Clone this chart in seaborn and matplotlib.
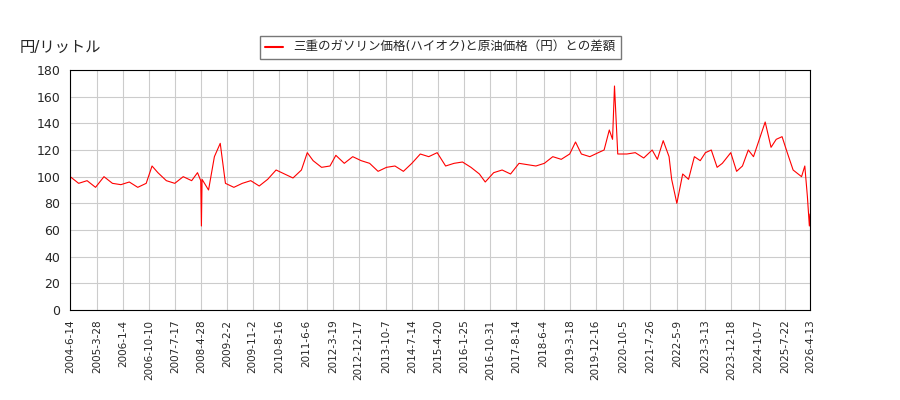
import matplotlib
matplotlib.use("Agg")
import matplotlib.pyplot as plt
import numpy as np
import pandas as pd
import seaborn as sns

sns.set_style("white")
plt.rcParams["font.family"] = ["DejaVu Sans", "Noto Sans CJK JP"]

dates = [
    "2004-06-14", "2004-09-13", "2004-12-13", "2005-03-14", "2005-06-13", "2005-09-12",
    "2005-12-12", "2006-03-13", "2006-06-12", "2006-09-11", "2006-11-13", "2007-01-15",
    "2007-04-16", "2007-07-16", "2007-10-15", "2008-01-14", "2008-03-17", "2008-04-21",
    "2008-04-28", "2008-05-05", "2008-07-14", "2008-09-15", "2008-11-17", "2008-12-15",
    "2009-01-12", "2009-04-13", "2009-07-13", "2009-10-12", "2010-01-11", "2010-04-12",
    "2010-07-12", "2010-10-11", "2011-01-10", "2011-04-11", "2011-06-13", "2011-08-15",
    "2011-11-14", "2012-02-13", "2012-04-16", "2012-07-16", "2012-10-15", "2013-01-14",
    "2013-04-15", "2013-07-15", "2013-10-14", "2014-01-13", "2014-04-14", "2014-07-14",
    "2014-10-13", "2015-01-12", "2015-04-13", "2015-07-13", "2015-10-12", "2016-01-11",
    "2016-04-11", "2016-07-11", "2016-09-12", "2016-12-12", "2017-03-13", "2017-06-12",
    "2017-09-11", "2017-12-11", "2018-03-12", "2018-06-11", "2018-09-10", "2018-12-10",
    "2019-03-11", "2019-05-13", "2019-07-15", "2019-10-14", "2020-01-13", "2020-03-16",
    "2020-05-11", "2020-06-15", "2020-07-06", "2020-08-10", "2020-11-16", "2021-02-15",
    "2021-05-17", "2021-08-16", "2021-10-11", "2021-12-13", "2022-02-14", "2022-03-14",
    "2022-05-09", "2022-07-11", "2022-09-12", "2022-11-14", "2023-01-16", "2023-03-13",
    "2023-05-15", "2023-07-17", "2023-09-11", "2023-12-11", "2024-02-12", "2024-04-15",
    "2024-06-17", "2024-08-12", "2024-10-14", "2024-12-16", "2025-02-17", "2025-04-14",
    "2025-06-16", "2025-08-11", "2025-10-13", "2026-01-12", "2026-02-16", "2026-03-16",
    "2026-04-06", "2026-04-13",
]
values = [
    100, 95, 97, 92, 100, 95, 94, 96, 92, 95, 108, 103,
    97, 95, 100, 97, 103, 97, 63, 98, 90, 115, 125, 110,
    95, 92, 95, 97, 93, 98, 105, 102, 99, 105, 118, 112,
    107, 108, 116, 110, 115, 112, 110, 104, 107, 108, 104, 110,
    117, 115, 118, 108, 110, 111, 107, 102, 96, 103, 105, 102,
    110, 109, 108, 110, 115, 113, 117, 126, 117, 115, 118, 120,
    135, 128, 168, 117, 117, 118, 114, 120, 113, 127, 115, 98,
    80, 102, 98, 115, 112, 118, 120, 107, 110, 118, 104, 108,
    120, 115, 128, 141, 122, 128, 130, 118, 105, 100, 108, 85,
    63, 72,
]
tick_labels = [
    "2004-6-14", "2005-3-28", "2006-1-4", "2006-10-10", "2007-7-17", "2008-4-28",
    "2009-2-2", "2009-11-2", "2010-8-16", "2011-6-6", "2012-3-19", "2012-12-17",
    "2013-10-7", "2014-7-14", "2015-4-20", "2016-1-25", "2016-10-31", "2017-8-14",
    "2018-6-4", "2019-3-18", "2019-12-16", "2020-10-5", "2021-7-26", "2022-5-9",
    "2023-3-13", "2023-12-18", "2024-10-7", "2025-7-22", "2026-4-13",
]

df = pd.DataFrame({"date": pd.to_datetime(dates), "value": values})
label = "三重のガソリン価格(ハイオク)と原油価格（円）との差額"

fig, ax = plt.subplots(figsize=(9, 4), dpi=100)
fig.subplots_adjust(left=0.078, right=0.9, top=0.825, bottom=0.225)
sns.lineplot(data=df, x="date", y="value", color="red", linewidth=0.8, ax=ax, label=label)

ticks = pd.to_datetime(tick_labels)
ax.set_xticks(ticks)
ax.set_xticklabels(tick_labels, rotation=90, fontsize=7.5)
ax.set_xlim(ticks[0], ticks[-1])
ax.set_ylim(0, 180)
ax.set_yticks(np.arange(0, 181, 20))
ax.tick_params(axis="y", labelsize=9)
ax.grid(True, color="#cccccc", linewidth=0.8)
for s in ax.spines.values():
    s.set_color("black")
    s.set_linewidth(0.8)
ax.set_xlabel("")
ax.set_ylabel("")
fig.text(0.022, 0.87, "円/リットル", fontsize=11)
leg = ax.legend(loc="lower center", bbox_to_anchor=(0.5, 1.02), fontsize=9, frameon=True,
                edgecolor="#555555", fancybox=False, handlelength=1.5)
for line in leg.get_lines():
    line.set_linewidth(1.5)

fig.savefig("out.png", dpi=100)
